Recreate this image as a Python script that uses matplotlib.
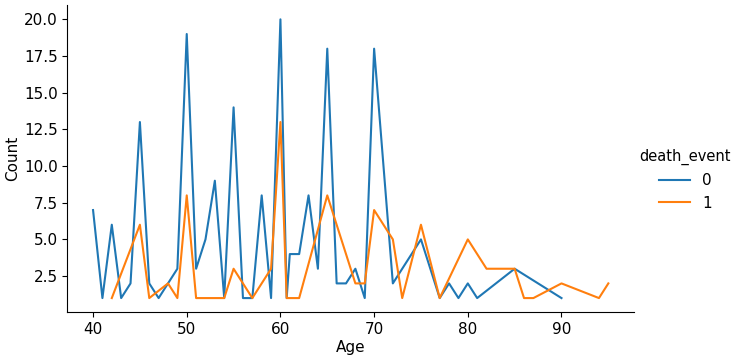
import matplotlib
matplotlib.use("Agg")
import matplotlib.pyplot as plt

# age counts per death_event
age_0 = [40, 41, 42, 43, 44, 45, 46, 47, 48, 49, 50, 51, 52, 53, 54, 55, 56, 57, 58, 59,
         60, 60.667, 61, 62, 63, 64, 65, 66, 67, 68, 69, 70, 72, 73, 75, 77, 78, 79, 80, 81,
         85, 90]
count_0 = [7, 1, 6, 1, 2, 13, 2, 1, 2, 3, 19, 3, 5, 9, 1, 14, 1, 1, 8, 1,
           20, 1, 4, 4, 8, 3, 18, 2, 2, 3, 1, 18, 2, 3, 5, 1, 2, 1, 2, 1,
           3, 1]

age_1 = [42, 45, 46, 48, 49, 50, 51, 52, 53, 54, 55, 57, 58, 59, 60, 60.667, 61, 62,
         65, 68, 69, 70, 72, 73, 75, 77, 80, 82, 85, 86, 87, 90, 94, 95]
count_1 = [1, 6, 1, 2, 1, 8, 1, 1, 1, 1, 3, 1, 2, 3, 13, 1, 1, 1,
           8, 2, 2, 7, 5, 1, 6, 1, 5, 3, 3, 1, 1, 2, 1, 2]

plt.rcParams['font.size'] = 11

fig = plt.figure(figsize=(7.46, 3.6), dpi=100)
ax = fig.add_axes([0.0902, 0.1333, 0.7598, 0.8517])

l0, = ax.plot(age_0, count_0, color="#1f77b4", lw=1.5)
l1, = ax.plot(age_1, count_1, color="#ff7f0e", lw=1.5)

ax.set_xlabel("Age", labelpad=2)
ax.set_ylabel("Count", labelpad=3)
ax.set_yticks([2.5, 5.0, 7.5, 10.0, 12.5, 15.0, 17.5, 20.0])
ax.spines["top"].set_visible(False)
ax.spines["right"].set_visible(False)

leg = fig.legend([l0, l1], ["0", "1"], title="death_event", frameon=False,
                 loc="center left", bbox_to_anchor=(0.839, 0.5))
leg.get_title().set_fontsize(10.5)

fig.savefig("out.png", dpi=100)
